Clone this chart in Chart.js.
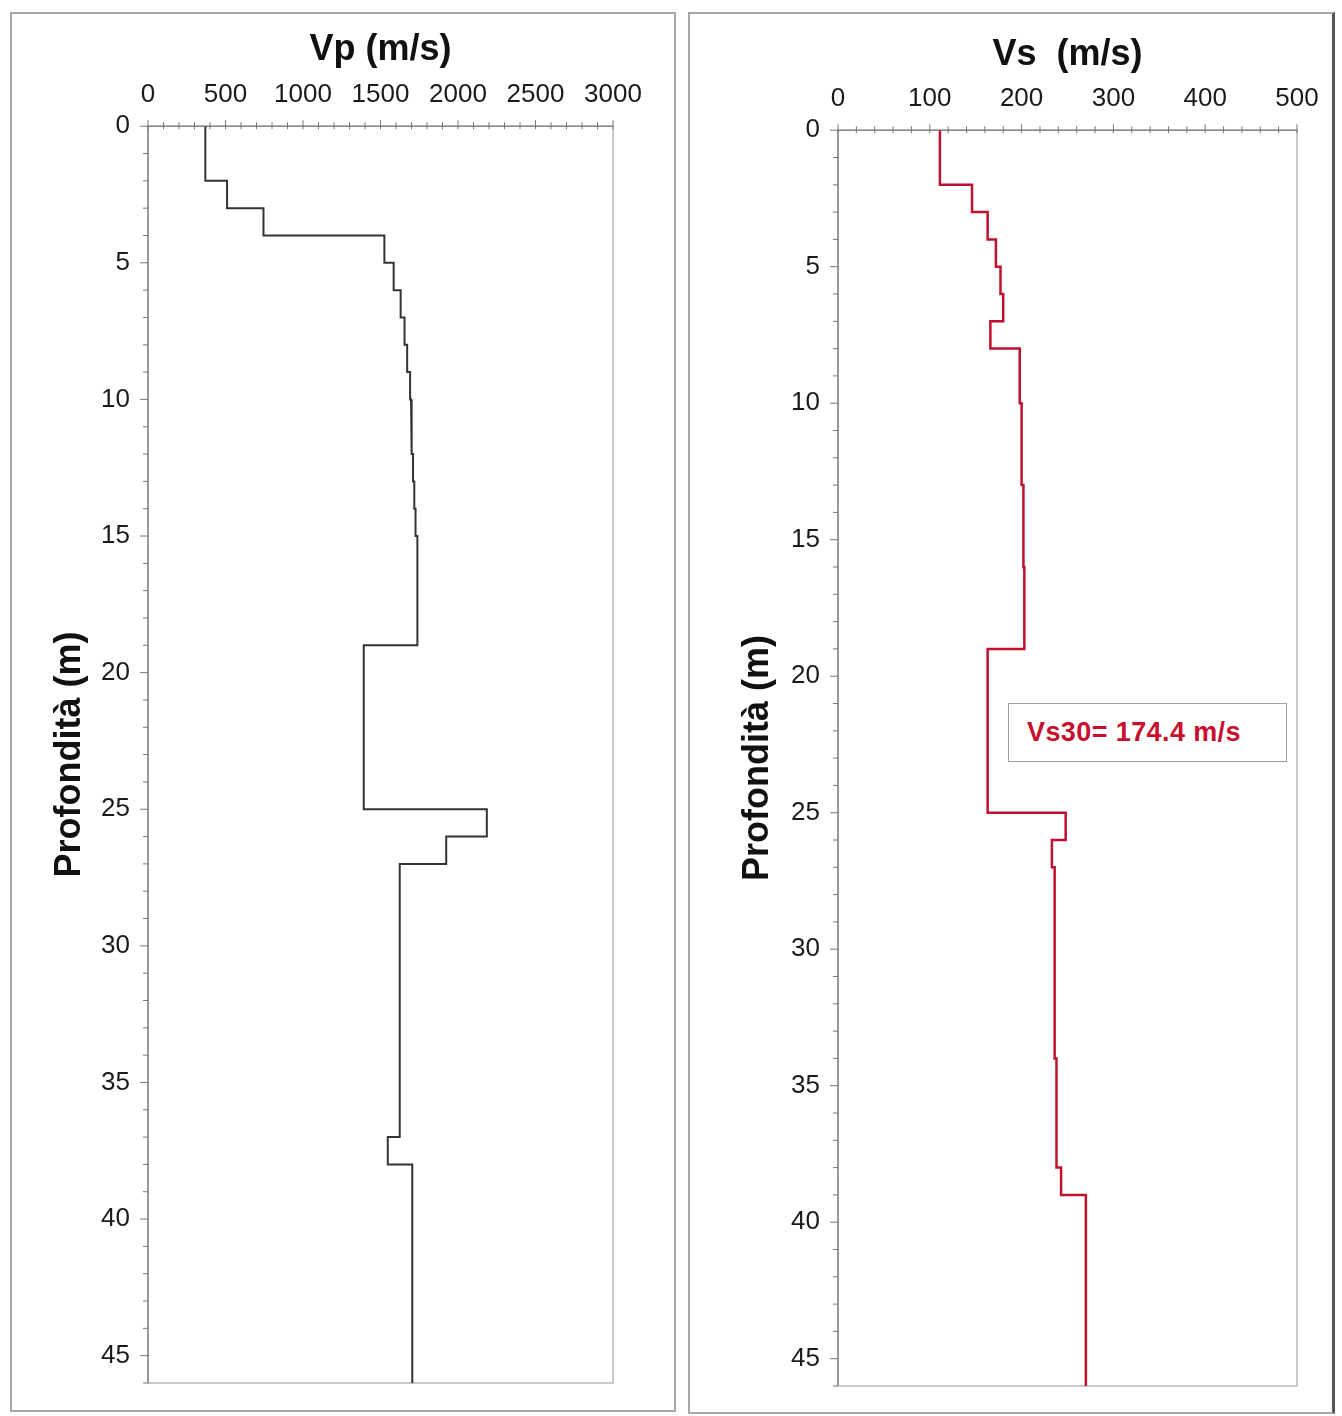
<!DOCTYPE html>
<html>
<head>
<meta charset="utf-8">
<script src="https://cdn.jsdelivr.net/npm/chart.js@4.4.1/dist/chart.umd.min.js"></script>
<style>
  body { margin: 0; width: 1342px; height: 1416px; background: #fff; position: relative; overflow: hidden; }
  .panel { position: absolute; box-sizing: border-box; }
  #panelVp { left: 10px; top: 12px; width: 666px; height: 1400px; border: 2px solid #a8a8a8; }
  #panelVs { left: 688px; top: 12px; width: 647px; height: 1402px; border: 2px solid #a8a8a8; border-right: 3px solid #555; }
  canvas { position: absolute; }
  #vpChart { left: 10px; top: 12px; }
  #vsChart { left: 688px; top: 12px; }
  #vs30 {
    position: absolute; left: 1008px; top: 703px; width: 279px; height: 59px;
    box-sizing: border-box; border: 1.5px solid #a0a0a0; background: #fff;
    color: #c8102e; font: bold 27px "Liberation Sans", Arial, sans-serif;
    letter-spacing: 0.4px; line-height: 56px; padding-left: 18px; white-space: nowrap;
  }
</style>
</head>
<body>
<div class="panel" id="panelVp"></div>
<div class="panel" id="panelVs"></div>
<canvas id="vpChart" width="666" height="1400"></canvas>
<canvas id="vsChart" width="647" height="1402"></canvas>
<div id="vs30">Vs30= 174.4 m/s</div>
<script>
"use strict";
// layer tops (m) and velocity of each layer (m/s); last layer ends at maxDepth
const maxDepth = 46;

const vpTops   = [0, 2, 3, 4, 5, 6, 7, 8, 9, 10, 11, 12, 13, 14, 15, 19, 25, 26, 27, 37, 38];
const vpValues = [370, 510, 745, 1525, 1585, 1630, 1655, 1672, 1691, 1697, 1703, 1710, 1718, 1726, 1738, 1392, 2186, 1924, 1624, 1547, 1705];

const vsTops   = [0, 2, 3, 4, 5, 6, 7, 8, 10, 13, 16, 19, 25, 26, 27, 34, 38, 39];
const vsValues = [111, 146, 163, 172, 177, 180, 166, 198, 200, 202, 203, 163, 248, 233, 236, 238, 243, 270];

const vpTickLabels = [0, 500, 1000, 1500, 2000, 2500, 3000];
const vsTickLabels = [0, 100, 200, 300, 400, 500];
const depthTickLabels = [0, 5, 10, 15, 20, 25, 30, 35, 40, 45];

// step profile: each layer is a vertical segment from its top to the next top
function profilePoints(tops, values) {
  var pts = [];
  for (let i = 0; i < tops.length; i++) {
    let bottom = i < tops.length - 1 ? tops[i + 1] : maxDepth;
    pts.push({x: values[i], y: tops[i]});
    pts.push({x: values[i], y: bottom});
  }
  return pts;
}

// plot frame + major/minor tick marks
const tickMarks = {
  id: 'tickMarks',
  beforeDatasetsDraw(chart, args, opts) {
    const ctx = chart.ctx;
    const a = chart.chartArea;
    const xs = chart.scales.x, ys = chart.scales.y;
    ctx.save();
    ctx.strokeStyle = '#b8b8b8';
    ctx.lineWidth = 1.5;
    ctx.strokeRect(a.left, a.top, a.right - a.left, a.bottom - a.top);
    ctx.strokeStyle = '#8a8a8a';
    ctx.lineWidth = 1.5;
    ctx.beginPath();
    ctx.moveTo(a.left, a.bottom); ctx.lineTo(a.left, a.top); ctx.lineTo(a.right, a.top);
    ctx.stroke();
    ctx.lineWidth = 1;
    ctx.strokeStyle = '#777';
    xs.ticks.forEach(t => {
      const px = xs.getPixelForValue(t.value);
      const major = opts.xMajor.includes(t.value);
      ctx.beginPath();
      ctx.moveTo(px, a.top - (major ? 6 : 4));
      ctx.lineTo(px, a.top + 3);
      ctx.stroke();
    });
    ys.ticks.forEach(t => {
      const py = ys.getPixelForValue(t.value);
      const major = opts.yMajor.includes(t.value);
      ctx.beginPath();
      ctx.moveTo(a.left - (major ? 8 : 5), py);
      ctx.lineTo(a.left, py);
      ctx.stroke();
    });
    ctx.restore();
  }
};

function createProfile(canvasId, cfg) {
  let el = document.getElementById(canvasId).getContext("2d");
  return new Chart(el, {
    type: 'scatter',
    data: {
      datasets: [{
        data: profilePoints(cfg.tops, cfg.values),
        showLine: true,
        borderColor: cfg.color,
        borderWidth: cfg.lineWidth,
        pointRadius: 0,
        fill: false
      }]
    },
    plugins: [tickMarks],
    options: {
      responsive: false,
      animation: false,
      devicePixelRatio: 1,
      layout: { padding: cfg.padding },
      plugins: {
        legend: { display: false },
        tooltip: { enabled: false },
        title: {
          display: true,
          fullSize: false,
          text: cfg.title,
          color: '#111',
          font: { family: 'Liberation Sans', size: 36, weight: 'bold' },
          padding: { top: cfg.titleTop, bottom: 0 }
        },
        tickMarks: { xMajor: cfg.xLabels, yMajor: depthTickLabels }
      },
      scales: {
        x: {
          type: 'linear',
          position: 'top',
          min: 0,
          max: cfg.xLabels[cfg.xLabels.length - 1],
          grid: { display: false, drawTicks: true, tickLength: 6 },
          border: { display: false },
          ticks: {
            stepSize: cfg.xMinor,
            autoSkip: false,
            maxRotation: 0,
            padding: 10,
            color: '#1a1a1a',
            font: { family: 'Liberation Sans', size: 26 },
            callback: v => cfg.xLabels.includes(v) ? v : ''
          },
          afterFit: s => { s.height = cfg.xAxisHeight; }
        },
        y: {
          type: 'linear',
          reverse: true,
          min: 0,
          max: maxDepth,
          grid: { display: false, drawTicks: true, tickLength: 8 },
          border: { display: false },
          ticks: {
            stepSize: 1,
            autoSkip: false,
            padding: 10,
            color: '#1a1a1a',
            font: { family: 'Liberation Sans', size: 26 },
            callback: v => depthTickLabels.includes(v) ? v : ''
          },
          title: {
            display: true,
            text: 'Profondità (m)',
            color: '#111',
            font: { family: 'Liberation Sans', size: 36, weight: 'bold' },
            padding: { top: 4, bottom: 4 }
          },
          afterFit: s => { s.width = cfg.yAxisWidth; }
        }
      }
    }
  });
}

createProfile('vpChart', {
  tops: vpTops, values: vpValues, xLabels: vpTickLabels, xMinor: 100,
  title: 'Vp (m/s)', color: '#333', lineWidth: 2,
  padding: { left: 34, right: 63, top: 0, bottom: 29 },
  titleTop: 16, xAxisHeight: 55, yAxisWidth: 104
});

createProfile('vsChart', {
  tops: vsTops, values: vsValues, xLabels: vsTickLabels, xMinor: 20,
  title: 'Vs  (m/s)', color: '#c0102f', lineWidth: 2.5,
  padding: { left: 44, right: 38, top: 0, bottom: 28 },
  titleTop: 21, xAxisHeight: 54, yAxisWidth: 106
});
</script>
</body>
</html>
